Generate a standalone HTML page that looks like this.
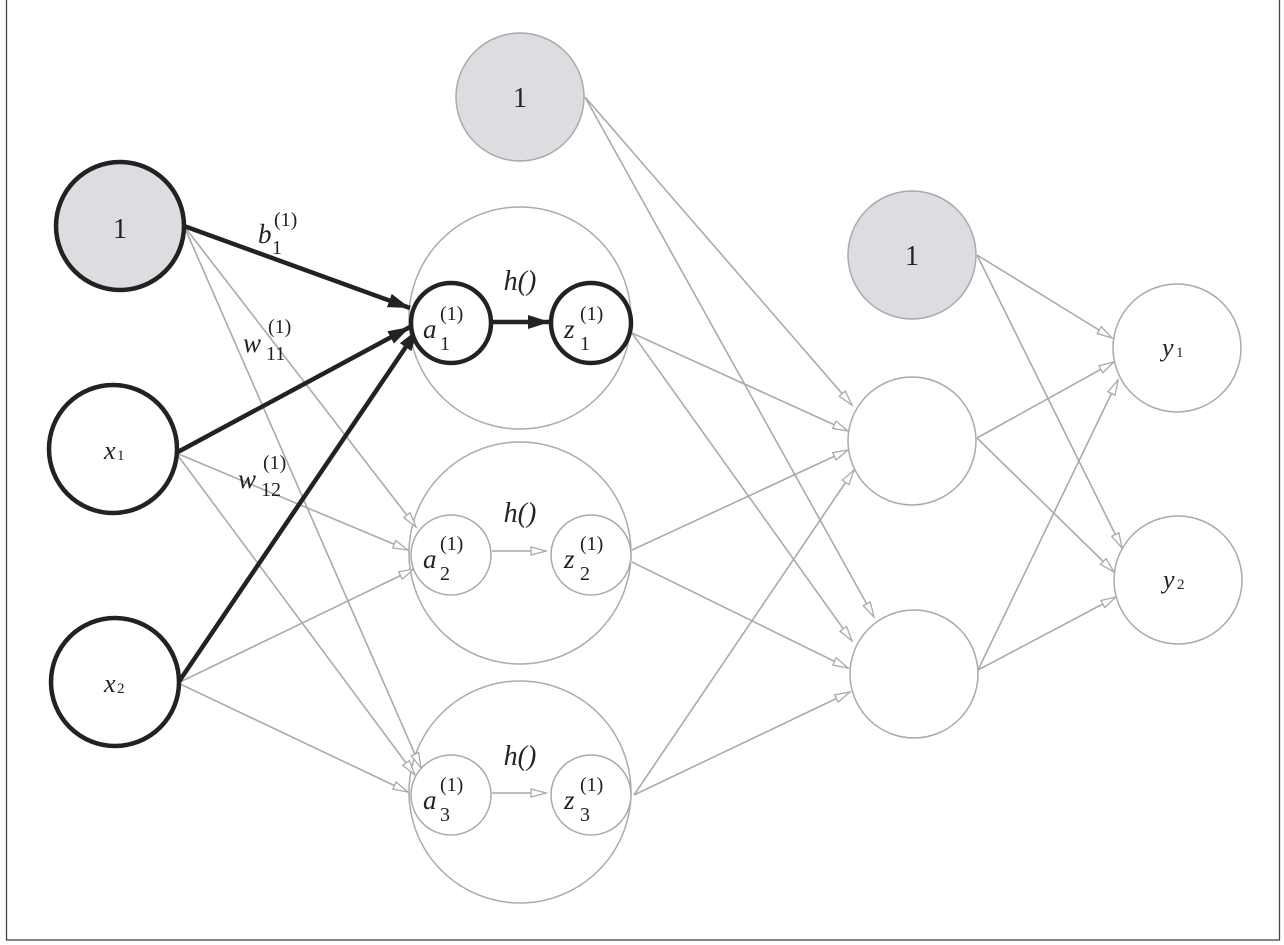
<!DOCTYPE html>
<html><head><meta charset="utf-8"><style>
html,body{margin:0;padding:0;background:#fff;}
svg{display:block}
text{font-family:"Liberation Serif",serif;fill:#222}
.i{font-style:italic}
</style></head><body>
<svg width="1284" height="945" viewBox="0 0 1284 945" xmlns="http://www.w3.org/2000/svg">
<defs>
<marker id="g" markerUnits="userSpaceOnUse" markerWidth="20" markerHeight="14" refX="16" refY="5" orient="auto"><path d="M1,1 L16,5 L1,9 z" fill="#fff" stroke="#aaa" stroke-width="1.3"/></marker>
<marker id="b" markerUnits="userSpaceOnUse" markerWidth="26" markerHeight="18" refX="22" refY="7" orient="auto"><path d="M0,0 L22,7 L0,14 z" fill="#222"/></marker>
</defs>
<rect x="6.5" y="-2" width="1273" height="942" fill="none" stroke="#444" stroke-width="1.3"/>

<!-- big hidden circles -->
<g fill="none" stroke="#aaa" stroke-width="1.5">
<circle cx="520" cy="318" r="111"/>
<circle cx="520" cy="553" r="111"/>
<circle cx="520" cy="792" r="111"/>
</g>

<!-- gray edges -->
<g stroke="#aaa" stroke-width="1.6" fill="none" marker-end="url(#g)">
<line x1="184" y1="226" x2="416" y2="527"/>
<line x1="184" y1="226" x2="421" y2="768"/>
<line x1="176" y1="453" x2="408" y2="550"/>
<line x1="176" y1="453" x2="415" y2="775"/>
<line x1="178" y1="683" x2="414" y2="569"/>
<line x1="178" y1="683" x2="408" y2="792"/>
<line x1="492" y1="551" x2="546" y2="551"/>
<line x1="492" y1="793" x2="546" y2="793"/>
<line x1="585" y1="97" x2="852" y2="405"/>
<line x1="585" y1="97" x2="874" y2="617"/>
<line x1="632" y1="333" x2="848" y2="431"/>
<line x1="632" y1="333" x2="852" y2="641"/>
<line x1="632" y1="550" x2="848" y2="450"/>
<line x1="632" y1="562" x2="848" y2="668"/>
<line x1="634" y1="795" x2="854" y2="470"/>
<line x1="634" y1="795" x2="850" y2="692"/>
<line x1="977" y1="255" x2="1112" y2="338"/>
<line x1="977" y1="255" x2="1122" y2="548"/>
<line x1="977" y1="438" x2="1114" y2="362"/>
<line x1="977" y1="438" x2="1114" y2="572"/>
<line x1="978" y1="670" x2="1118" y2="380"/>
<line x1="978" y1="670" x2="1116" y2="597"/>
</g>

<!-- black edges -->
<g stroke="#222" stroke-width="4.5" fill="none" marker-end="url(#b)">
<line x1="184" y1="226" x2="410" y2="308"/>
<line x1="176" y1="453" x2="410" y2="327"/>
<line x1="178" y1="683" x2="418" y2="329"/>
<line x1="492" y1="322" x2="550" y2="322"/>
</g>

<!-- nodes -->
<circle cx="120" cy="226" r="64" fill="#dcdde0" stroke="#222" stroke-width="4.5"/>
<circle cx="113" cy="449" r="64" fill="#fff" stroke="#222" stroke-width="4.5"/>
<circle cx="115" cy="682" r="64" fill="#fff" stroke="#222" stroke-width="4.5"/>
<g stroke="#aaa" stroke-width="1.5">
<circle cx="520" cy="97" r="64" fill="#dcdde0"/>
<circle cx="912" cy="255" r="64" fill="#dcdde0"/>
<circle cx="912" cy="441" r="64" fill="#fff"/>
<circle cx="914" cy="674" r="64" fill="#fff"/>
<circle cx="1177" cy="348" r="64" fill="#fff"/>
<circle cx="1178" cy="580" r="64" fill="#fff"/>
<circle cx="451" cy="555" r="40" fill="#fff"/>
<circle cx="591" cy="555" r="40" fill="#fff"/>
<circle cx="451" cy="795" r="40" fill="#fff"/>
<circle cx="591" cy="795" r="40" fill="#fff"/>
</g>
<circle cx="451" cy="323" r="40" fill="#fff" stroke="#222" stroke-width="4.5"/>
<circle cx="591" cy="323" r="40" fill="#fff" stroke="#222" stroke-width="4.5"/>

<!-- text -->
<g font-size="28" text-anchor="middle">
<text x="120" y="238">1</text>
<text x="520" y="107">1</text>
<text x="912" y="265">1</text>
</g>
<text x="104" y="459" font-size="26" class="i">x</text><text x="117" y="460" font-size="15">1</text>
<text x="104" y="692" font-size="26" class="i">x</text><text x="117" y="693" font-size="15">2</text>
<text x="1162" y="356" font-size="26" class="i">y</text><text x="1176" y="357" font-size="15">1</text>
<text x="1163" y="588" font-size="26" class="i">y</text><text x="1177" y="589" font-size="15">2</text>

<g font-size="28" class="i" text-anchor="middle">
<text x="520" y="290">h()</text>
<text x="520" y="522">h()</text>
<text x="520" y="765">h()</text>
</g>

<!-- a/z labels -->
<g font-size="27">
<text x="423" y="338" class="i">a</text><text x="440" y="320" font-size="20">(1)</text><text x="440" y="350" font-size="20">1</text>
<text x="564" y="338" class="i">z</text><text x="580" y="320" font-size="20">(1)</text><text x="580" y="350" font-size="20">1</text>
<text x="423" y="568" class="i">a</text><text x="440" y="550" font-size="20">(1)</text><text x="440" y="580" font-size="20">2</text>
<text x="564" y="568" class="i">z</text><text x="580" y="550" font-size="20">(1)</text><text x="580" y="580" font-size="20">2</text>
<text x="423" y="809" class="i">a</text><text x="440" y="791" font-size="20">(1)</text><text x="440" y="821" font-size="20">3</text>
<text x="564" y="809" class="i">z</text><text x="580" y="791" font-size="20">(1)</text><text x="580" y="821" font-size="20">3</text>
</g>

<!-- weight labels -->
<g font-size="27">
<text x="258" y="243" class="i">b</text><text x="274" y="226" font-size="20">(1)</text><text x="272" y="254" font-size="20">1</text>
<text x="243" y="352" class="i">w</text><text x="268" y="333" font-size="20">(1)</text><text x="266" y="360" font-size="20">11</text>
<text x="238" y="488" class="i">w</text><text x="263" y="469" font-size="20">(1)</text><text x="261" y="496" font-size="20">12</text>
</g>
</svg>
</body></html>
